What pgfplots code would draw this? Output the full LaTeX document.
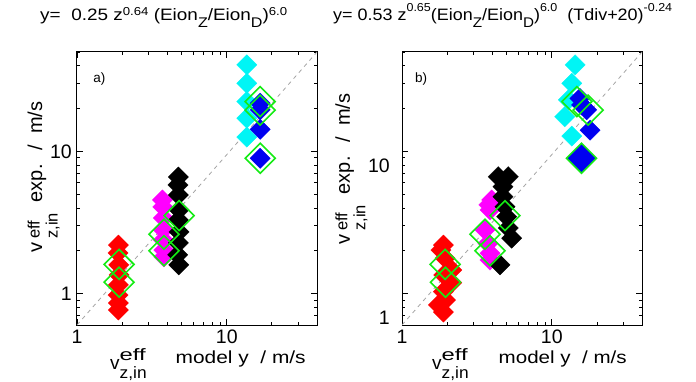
\documentclass[border=0pt]{standalone}
\usepackage{fontspec}
\setmainfont{Liberation Sans}
\usepackage{graphicx}
\usepackage{pgfplots}
\pgfplotsset{compat=1.18}
\definecolor{lgreen}{RGB}{20,235,20}
\definecolor{dgray}{RGB}{165,165,165}
\definecolor{mcyan}{RGB}{0,245,245}
\definecolor{mblue}{RGB}{0,0,240}
\definecolor{mmag}{RGB}{255,0,255}
\newcommand{\fs}[1]{\fontsize{#1}{#1}\selectfont}
\newcommand{\tklab}[1]{\fs{19.5}#1}
\newcommand{\upa}[1]{\raisebox{5pt}{\fs{11.5}#1}}
\newcommand{\upb}[1]{\raisebox{9.5pt}{\fs{11.5}#1}}
\newcommand{\dnn}[1]{\raisebox{-6.6pt}{\fs{14}#1}}
% x-axis title pieces
\newcommand{\xveff}{\raisebox{-6pt}{\fs{19}v}\rlap{\raisebox{2.5pt}{\resizebox{26pt}{\height}{\fs{16.5}eff}}}\raisebox{-15.5pt}{\resizebox{27pt}{\height}{\fs{16.5}z,in}}}
% y-axis title
\newcommand{\ytit}{\fs{20}v\hspace{4pt}\rlap{\raisebox{2.5pt}{\fs{16.5}eff}}\raisebox{-15.5pt}{\fs{16.5}z,in}\hspace{11pt}exp.\hspace{14pt}/\ \ m/s}
\pgfplotsset{
  mydia/.style={only marks, color=#1, mark=square*, mark size=7.2pt,
    mark options={rotate=45, fill=#1, draw=#1, line width=0.2pt}},
  myring/.style={only marks, color=lgreen, mark=square, mark size=10.6pt,
    mark options={rotate=45, draw=lgreen, line width=1.6pt}},
}
\begin{document}
\begin{tikzpicture}
\path[use as bounding box] (0,0) rectangle (696pt,381pt);
% ---------------- panel a
\begin{axis}[at={(77pt,56pt)},
    scale only axis, width=240pt, height=273pt, anchor=south west,
    xmode=log, ymode=log, xmin=1, xmax=40, ymin=0.6, ymax=50,
    xtick={1,10}, ytick={1,10},
    xticklabels={\tklab{1},\tklab{10}}, yticklabels={\tklab{1},\tklab{10}},
    minor xtick={2,3,4,5,6,7,8,9,20,30,40},
    minor ytick={0.6,0.7,0.8,0.9,2,3,4,5,6,7,8,9,20,30,40,50},
    tick align=inside, major tick length=6pt, minor tick length=3pt,
    every tick/.append style={black, line width=0.8pt},
    axis line style={line width=1pt},
    xticklabel style={anchor=north, inner sep=0pt, yshift=-5pt},
    yticklabel style={anchor=east, inner sep=0pt, xshift=-5pt},
  title={\resizebox{247pt}{\height}{y=\ \ 0.25 z\upa{0.64}\ (Eion\dnn{Z}/Eion\dnn{D})\upa{6.0}}},
  title style={at={(rel axis cs:-0.154,1.0927)}, anchor=base west, inner sep=0pt, font=\fs{16.5}},
  xlabel={\xveff\hspace{29pt}\resizebox{130pt}{\height}{\fs{17.5}model y\ \ / m/s}},
  xlabel style={at={(rel axis cs:0.1375,-0.1392)}, anchor=base west, inner sep=0pt},
  ylabel={\ytit},
  ylabel style={at={(rel axis cs:-0.1458,0.2637)}, anchor=base west, inner sep=0pt},
]
\addplot[dgray, line width=0.8pt, dash pattern=on 4pt off 4pt] coordinates {(1,0.6) (40,50)};
\addplot[mydia=mcyan] coordinates {(13.6,40.6) (13.6,30.1) (13.6,22.4) (13.6,17.1) (13.6,12.6)};
\addplot[mydia=mblue] coordinates {(16.7,21.8) (16.7,19.6) (16.7,14.3) (16.7,8.94)};
\addplot[mydia=red] coordinates {(1.89,2.19) (1.88,1.93) (1.90,1.59) (1.91,1.35) (1.89,1.15) (1.88,0.975) (1.89,0.857) (1.89,0.765)};
\addplot[mydia=mmag] coordinates {(3.72,4.55) (3.74,4.06) (3.77,3.40) (3.77,2.80) (3.77,2.38) (3.80,2.02) (3.80,1.81)};
\addplot[mydia=black] coordinates {(4.75,6.6) (4.72,5.8) (4.75,4.93) (4.80,3.87) (4.75,3.29) (4.80,2.71) (4.75,2.27) (4.70,1.87) (4.78,1.59)};
\addplot[myring] coordinates {(1.91,1.60) (1.91,1.20) (4.80,3.53) (3.81,2.61) (3.81,2.00) (16.7,22.4) (16.7,19.5) (16.7,8.94)};
\node[anchor=base west, inner sep=0pt, font=\fs{13.5}] at (rel axis cs:0.067,0.89) {a)};
\end{axis}
% ---------------- panel b
\begin{axis}[at={(402pt,56pt)},
    scale only axis, width=240pt, height=273pt, anchor=south west,
    xmode=log, ymode=log, xmin=1, xmax=40, ymin=0.6, ymax=50,
    xtick={1,10}, ytick={1,10},
    xticklabels={\tklab{1}\hspace{4pt},\tklab{10}\hspace{16pt}},
    yticklabels={\raisebox{-31.5pt}[0pt][0pt]{\tklab{1}},\raisebox{-21.5pt}[0pt][0pt]{\tklab{10}}},
    minor xtick={2,3,4,5,6,7,8,9,20,30,40},
    minor ytick={0.6,0.7,0.8,0.9,2,3,4,5,6,7,8,9,20,30,40,50},
    tick align=inside, major tick length=6pt, minor tick length=3pt,
    every tick/.append style={black, line width=0.8pt},
    axis line style={line width=1pt},
    xticklabel style={anchor=north, inner sep=0pt, yshift=-5pt},
    yticklabel style={anchor=east, inner sep=0pt, xshift=-12pt},
  title={\resizebox{339pt}{\height}{y= 0.53 z\upb{0.65}(Eion\dnn{Z}/Eion\dnn{D})\upb{6.0}\ \ (Tdiv+20)\upb{-0.24}}},
  title style={at={(rel axis cs:-0.2875,1.0927)}, anchor=base west, inner sep=0pt, font=\fs{16.5}},
  xlabel={\xveff\hspace{30pt}\resizebox{128pt}{\height}{\fs{17.5}model y\ \ / m/s}},
  xlabel style={at={(rel axis cs:0.125,-0.1392)}, anchor=base west, inner sep=0pt},
  ylabel={\ytit},
  ylabel style={at={(rel axis cs:-0.2167,0.293)}, anchor=base west, inner sep=0pt},
]
\addplot[dgray, line width=0.8pt, dash pattern=on 4pt off 4pt] coordinates {(1,0.6) (40,50)};
\addplot[mydia=mcyan] coordinates {(14.3,40.6) (13.6,30.1) (12.9,23.0) (12.2,17.5) (13.6,12.8)};
\addplot[mydia=mblue] coordinates {(15.4,23.6) (15.8,21.2) (17.1,19.6) (18.0,14.1)};
\addplot[mydia=mblue, mark size=10.2pt] coordinates {(15.8,8.94)};
\addplot[mydia=red] coordinates {(1.89,2.19) (1.82,2.02) (1.94,1.77) (2.15,1.46) (1.90,1.35) (2.15,1.19) (1.89,1.03) (1.95,0.90) (1.75,0.83) (1.89,0.74)};
\addplot[mydia=mmag] coordinates {(3.97,4.55) (3.80,4.20) (3.87,3.87) (3.58,2.80) (3.75,2.25) (3.87,1.92) (3.87,1.72)};
\addplot[mydia=black] coordinates {(4.39,6.63) (5.12,6.63) (4.72,5.64) (4.72,4.80) (4.87,4.08) (5.00,3.47) (5.12,2.89) (5.40,2.45) (4.51,1.59)};
\addplot[myring] coordinates {(1.94,1.60) (1.95,1.20) (3.58,2.61) (3.87,2.00) (4.87,3.53) (14.7,22.4) (17.5,19.5) (15.8,8.94)};
\node[anchor=base west, inner sep=0pt, font=\fs{13.5}] at (rel axis cs:0.054,0.89) {b)};
\end{axis}
\end{tikzpicture}
\end{document}
